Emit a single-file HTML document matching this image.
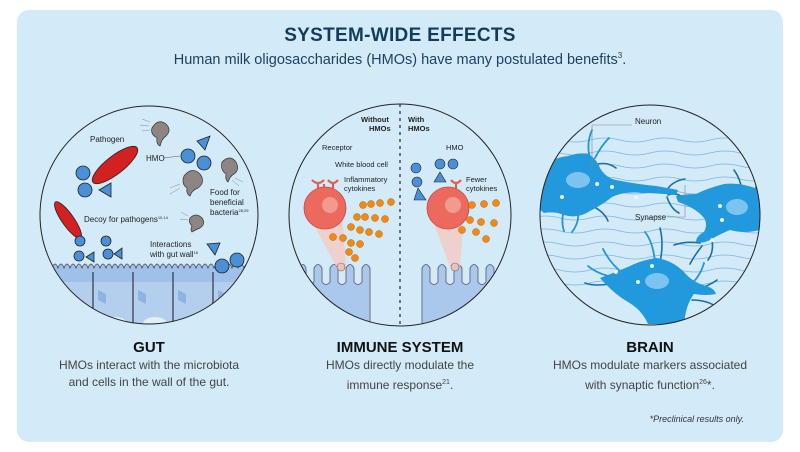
<!DOCTYPE html>
<html><head><meta charset="utf-8"><style>
html,body{margin:0;padding:0;background:#fff;}
body{width:800px;height:452px;position:relative;overflow:hidden;font-family:"Liberation Sans",sans-serif;}
.panel{position:absolute;left:17px;top:10px;width:766px;height:432px;background:#d3eaf9;border-radius:12px;}
.t{position:absolute;left:0;width:800px;text-align:center;color:#123c5e;}
.h{position:absolute;text-align:center;color:#111;font-weight:bold;font-size:15px;width:260px;}
.d{position:absolute;text-align:center;color:#444;font-size:12px;line-height:17px;width:260px;}
</style></head><body>
<div class="panel"></div>
<div class="t" style="top:25px;font-size:19px;font-weight:bold;letter-spacing:0.3px">SYSTEM-WIDE EFFECTS</div>
<div class="t" style="top:51px;font-size:14.5px;color:#1f4060">Human milk oligosaccharides (HMOs) have many postulated benefits<sup style="font-size:8px">3</sup>.</div>

<svg width="800" height="452" style="position:absolute;left:0;top:0" font-family="Liberation Sans, sans-serif">
<defs>
<clipPath id="c1"><circle cx="149" cy="215" r="109"/></clipPath>
<clipPath id="c2"><circle cx="400" cy="215" r="111"/></clipPath>
<clipPath id="c3"><circle cx="650" cy="215" r="110"/></clipPath>
</defs>
<!-- GUT -->
<g clip-path="url(#c1)">
<rect x="30" y="268" width="240" height="70" fill="#b4cfee"/>
<rect x="30" y="268" width="240" height="14" fill="#9fc0e8"/>
<path d="M40 268 q3 -8 6 0 q3 -8 6 0 q3 -8 6 0 q3 -8 6 0 q3 -8 6 0 q3 -8 6 0 q3 -8 6 0 q3 -8 6 0 q3 -8 6 0 q3 -8 6 0 q3 -8 6 0 q3 -8 6 0 q3 -8 6 0 q3 -8 6 0 q3 -8 6 0 q3 -8 6 0 q3 -8 6 0 q3 -8 6 0 q3 -8 6 0 q3 -8 6 0 q3 -8 6 0 q3 -8 6 0 q3 -8 6 0 q3 -8 6 0 q3 -8 6 0 q3 -8 6 0 q3 -8 6 0 q3 -8 6 0 q3 -8 6 0 q3 -8 6 0 q3 -8 6 0 q3 -8 6 0 q3 -8 6 0 q3 -8 6 0 q3 -8 6 0 q3 -8 6 0" fill="#9fc0e8" stroke="#445" stroke-width="0.8"/>
<g stroke="#334" stroke-width="1.2"><line x1="93" y1="272" x2="93" y2="330"/><line x1="133" y1="272" x2="133" y2="330"/><line x1="173" y1="272" x2="173" y2="330"/><line x1="213" y1="272" x2="213" y2="330"/></g>
<g fill="#8fb4e4"><path d="M98 290 l8 4 v10 l-8 -4z"/><path d="M138 290 l8 4 v10 l-8 -4z"/><path d="M178 290 l8 4 v10 l-8 -4z"/><path d="M218 290 l8 4 v10 l-8 -4z"/></g>
<g fill="#e4eef8"><ellipse cx="115" cy="324" rx="12" ry="7"/><ellipse cx="155" cy="324" rx="12" ry="7"/><ellipse cx="195" cy="324" rx="12" ry="7"/></g>
</g>
<circle cx="149" cy="215" r="109" fill="none" stroke="#222" stroke-width="1"/>
<g stroke="#222" stroke-width="0.8" fill="#4a90d6">
<ellipse cx="115" cy="165" rx="28" ry="9" transform="rotate(-38 115 165)" fill="#d32020"/>
<ellipse cx="68" cy="220" rx="22" ry="6" transform="rotate(55 68 220)" fill="#d32020"/>
<circle cx="83" cy="173" r="7"/><circle cx="85" cy="190" r="7"/><polygon points="99,190 111,183 111,197"/>
<circle cx="188" cy="156" r="7"/><circle cx="204" cy="163" r="7"/><polygon points="197,141 210,136 205,150"/>
<circle cx="80" cy="241" r="5"/><circle cx="79" cy="256" r="5"/><polygon points="86,257 94,252 94,262"/>
<circle cx="106" cy="241" r="5"/><circle cx="108" cy="254" r="5"/><polygon points="114,254 122,248 122,259"/>
<circle cx="222" cy="266" r="7"/><circle cx="237" cy="260" r="7"/><polygon points="207,244 220,243 215,255"/>
</g>
<g fill="#8c8584" stroke="#333" stroke-width="0.7">
<path d="M152 128 q6 -10 14 -4 q6 6 0 12 q-4 2 -6 10 q-4 -2 -3 -8 q-7 -4 -5 -10z"/>
<path d="M222 162 q8 -8 14 0 q4 8 -2 12 q-4 2 -6 8 q-3 -2 -2 -8 q-6 -4 -4 -12z"/>
<path d="M184 176 q8 -10 16 -2 q6 8 -2 14 q-6 2 -8 8 q-4 -2 -3 -8 q-6 -4 -3 -12z"/>
<path d="M190 218 q6 -6 12 0 q4 6 -2 10 q-5 2 -8 4 q-2 -2 0 -6 q-4 -4 -2 -8z"/>
</g>
<g fill="none" stroke="#888" stroke-width="0.5">
<path d="M150 122 l-8 -3 M149 126 l-9 -1 M150 130 l-8 1"/>
<path d="M235 178 l8 4 M232 180 l7 6"/>
<path d="M180 184 l-10 4 M180 188 l-10 6"/>
<path d="M188 216 l-7 -4 M188 220 l-8 -1"/>
</g>
<g font-size="8" fill="#222">
<text x="90" y="142">Pathogen</text><text x="146" y="161">HMO</text>
<line x1="163" y1="158" x2="180" y2="156" stroke="#555" stroke-width="0.5"/>
<text x="84" y="222">Decoy for pathogens<tspan font-size="4" dy="-3">10,14</tspan></text>
<text x="210" y="195">Food for</text><text x="210" y="205">beneficial</text><text x="210" y="215">bacteria<tspan font-size="4" dy="-3">28,29</tspan></text>
<text x="150" y="247">Interactions</text><text x="150" y="257">with gut wall<tspan font-size="4" dy="-3">16</tspan></text>
</g>
<!-- IMMUNE -->
<g clip-path="url(#c2)">
<path d="M300 340 V268 q3 -7 6 0 v14 q4 5 8 0 v-14 q4 -7 8 0 v14 q4 5 8 0 v-14 q4 -7 8 0 v14 q4 5 8 0 v-14 q4 -7 8 0 v14 q4 5 8 0 v-14 q4 -7 8 0 V340z" fill="#a9c8ec" stroke="#556" stroke-width="0.8"/>
<path d="M422 340 V268 q4 -7 8 0 v14 q4 5 8 0 v-14 q4 -7 8 0 v14 q4 5 8 0 v-14 q4 -7 8 0 v14 q4 5 8 0 v-14 q4 -7 8 0 v14 q4 5 8 0 v-14 q4 -7 8 0 v14 q4 5 8 0 v-14 q4 -7 8 0 V340z" fill="#a9c8ec" stroke="#556" stroke-width="0.8"/>
</g>
<circle cx="400" cy="215" r="111" fill="none" stroke="#222" stroke-width="1"/>
<line x1="400" y1="104" x2="400" y2="326" stroke="#222" stroke-width="1.2" stroke-dasharray="3,4"/>
<polygon points="308,214 342,214 346,266 336,266" fill="#f1cdc7" opacity="0.9"/>
<polygon points="430,214 464,214 460,266 450,266" fill="#f1cdc7" opacity="0.9"/>
<circle cx="341" cy="267" r="4" fill="#f0c0b8" stroke="#666" stroke-width="0.6"/>
<circle cx="455" cy="267" r="4" fill="#f0c0b8" stroke="#666" stroke-width="0.6"/>
<g fill="none" stroke="#e06050" stroke-width="2.2">
<path d="M318 192 v-8 M312 180 q6 6 12 0 M324 190 v-6"/>
<path d="M333 192 v-8 M328 180 q5 6 10 0"/>
<path d="M456 192 v-8 M451 180 q5 6 10 0"/>
</g>
<g fill="#ec6a5d" stroke="#c24a40" stroke-width="0.8">
<circle cx="325" cy="208" r="21"/><circle cx="448" cy="208" r="21"/>
</g>
<g fill="#f29a8e"><circle cx="330" cy="205" r="8"/><circle cx="453" cy="205" r="8"/></g>
<g fill="#4a90d6" stroke="#222" stroke-width="0.6">
<circle cx="416" cy="168" r="5"/><circle cx="417" cy="182" r="5"/><polygon points="418,188 426,200 414,200"/>
<circle cx="440" cy="164" r="5"/><circle cx="453" cy="164" r="5"/><polygon points="440,172 446,182 434,182"/>
</g>
<g fill="#f08a14" stroke="#b85f00" stroke-width="0.5">
<circle cx="363" cy="205" r="3.5"/><circle cx="371" cy="204" r="3.5"/><circle cx="380" cy="203" r="3.5"/><circle cx="391" cy="202" r="3.5"/>
<circle cx="357" cy="217" r="3.5"/><circle cx="365" cy="217" r="3.5"/><circle cx="375" cy="218" r="3.5"/><circle cx="385" cy="219" r="3.5"/>
<circle cx="351" cy="227" r="3.5"/><circle cx="360" cy="230" r="3.5"/><circle cx="369" cy="232" r="3.5"/><circle cx="379" cy="234" r="3.5"/>
<circle cx="333" cy="237" r="3.5"/><circle cx="343" cy="238" r="3.5"/><circle cx="351" cy="243" r="3.5"/><circle cx="360" cy="244" r="3.5"/><circle cx="349" cy="252" r="3.5"/><circle cx="355" cy="258" r="3.5"/>
<circle cx="472" cy="205" r="3.5"/><circle cx="484" cy="204" r="3.5"/><circle cx="496" cy="203" r="3.5"/>
<circle cx="470" cy="220" r="3.5"/><circle cx="481" cy="222" r="3.5"/><circle cx="494" cy="223" r="3.5"/>
<circle cx="462" cy="230" r="3.5"/><circle cx="476" cy="232" r="3.5"/><circle cx="486" cy="239" r="3.5"/>
</g>
<g font-size="7.5" fill="#222">
<text x="361" y="122" font-weight="bold">Without</text><text x="369" y="131" font-weight="bold">HMOs</text>
<text x="408" y="122" font-weight="bold">With</text><text x="408" y="131" font-weight="bold">HMOs</text>
<text x="322" y="150">Receptor</text><text x="335" y="167">White blood cell</text>
<text x="344" y="182">Inflammatory</text><text x="344" y="191">cytokines</text>
<text x="446" y="150">HMO</text><text x="466" y="182">Fewer</text><text x="466" y="191">cytokines</text>
</g>
<!-- BRAIN -->
<g clip-path="url(#c3)">
<g fill="none" stroke="#7fb4e0" stroke-width="0.7">
<path d="M530 140 q15 -4 30 0 t30 0 t30 0 t30 0 t30 0 t30 0 t30 0 t30 0"/>
<path d="M530 153 q15 -4 30 0 t30 0 t30 0 t30 0 t30 0 t30 0 t30 0 t30 0"/>
<path d="M530 166 q15 -4 30 0 t30 0 t30 0 t30 0 t30 0 t30 0 t30 0 t30 0"/>
<path d="M530 179 q15 -4 30 0 t30 0 t30 0 t30 0 t30 0 t30 0 t30 0 t30 0"/>
<path d="M530 192 q15 -4 30 0 t30 0 t30 0 t30 0 t30 0 t30 0 t30 0 t30 0"/>
<path d="M530 205 q15 -4 30 0 t30 0 t30 0 t30 0 t30 0 t30 0 t30 0 t30 0"/>
<path d="M530 218 q15 -4 30 0 t30 0 t30 0 t30 0 t30 0 t30 0 t30 0 t30 0"/>
<path d="M530 231 q15 -4 30 0 t30 0 t30 0 t30 0 t30 0 t30 0 t30 0 t30 0"/>
<path d="M530 244 q15 -4 30 0 t30 0 t30 0 t30 0 t30 0 t30 0 t30 0 t30 0"/>
<path d="M530 257 q15 -4 30 0 t30 0 t30 0 t30 0 t30 0 t30 0 t30 0 t30 0"/>
<path d="M530 270 q15 -4 30 0 t30 0 t30 0 t30 0 t30 0 t30 0 t30 0 t30 0"/>
<path d="M530 283 q15 -4 30 0 t30 0 t30 0 t30 0 t30 0 t30 0 t30 0 t30 0"/>
</g>
<!-- thin dendrites -->
<g fill="none" stroke="#1a6fa8" stroke-width="1.6" stroke-linecap="round">
<path d="M590 158 q-4 -14 2 -28"/><path d="M595 158 q6 -12 14 -20"/><path d="M598 164 q10 -2 18 4"/>
<path d="M566 205 q-6 14 -2 26"/><path d="M578 208 q2 14 -6 24"/><path d="M590 205 q14 6 18 16"/>
<path d="M665 193 q6 -12 20 -14"/><path d="M668 195 q10 -4 18 6"/><path d="M667 197 q4 12 12 16"/>
<path d="M700 243 q-14 -2 -26 2"/><path d="M702 246 q-8 10 -12 18"/><path d="M712 240 q2 12 -4 20"/>
<path d="M742 190 q-2 -12 -8 -20"/><path d="M752 198 q6 -10 4 -20"/>
<path d="M625 275 q-14 -10 -22 -26"/><path d="M620 278 q-20 -2 -32 -12"/><path d="M615 283 q-20 4 -30 0"/>
<path d="M655 262 q-2 -20 -10 -30"/><path d="M660 262 q4 -18 0 -34"/>
<path d="M690 285 q10 -8 14 -22"/><path d="M695 290 q14 -4 22 -10"/><path d="M692 300 q16 0 26 8"/>
</g>
<g fill="none" stroke="#2199dc" stroke-width="1.6" stroke-linecap="round">
<path d="M590 158 q-4 -14 2 -28"/><path d="M595 158 q6 -12 14 -20"/><path d="M566 205 q-6 14 -2 26"/><path d="M578 208 q2 14 -6 24"/>
<path d="M625 275 q-14 -10 -22 -26"/><path d="M620 278 q-20 -2 -32 -12"/><path d="M655 262 q-2 -20 -10 -30"/><path d="M690 285 q10 -8 14 -22"/>
</g>
<g fill="#2199dc">
<path d="M540 170 q10 -12 28 -14 q12 -4 20 -2 q8 4 12 14 q6 10 16 12 q20 4 40 6 q12 2 22 4 l-2 5 q-22 -2 -34 -2 q-18 -2 -30 4 q-10 8 -22 14 q-12 8 -26 4 q-10 -4 -20 -2 q-6 -4 -6 -10z"/>
<path d="M676 196 q10 -2 20 -2 q12 -6 28 -10 q18 -2 36 6 v40 q-16 4 -30 0 q-10 4 -20 10 q-8 4 -14 2 q0 -6 8 -10 q4 -8 0 -14 q-8 -10 -26 -16z"/>
<path d="M600 278 q16 -6 30 -12 q12 -6 26 -8 q16 2 28 14 q8 10 22 14 q8 2 10 8 q-10 2 -22 0 q-8 10 -10 30 h-36 q-6 -14 -20 -22 q-14 -8 -28 -24z"/>
</g>
<g fill="#7cc3ef"><ellipse cx="578" cy="180" rx="12" ry="8"/><ellipse cx="737" cy="207" rx="11" ry="8"/><ellipse cx="657" cy="281" rx="12" ry="8"/></g>
<g fill="#e8f6ff"><circle cx="597" cy="184" r="2"/><circle cx="636" cy="197" r="2"/><circle cx="612" cy="187" r="2"/><circle cx="562" cy="197" r="2"/><circle cx="720" cy="206" r="2"/><circle cx="722" cy="220" r="2"/><circle cx="712" cy="240" r="2"/><circle cx="616" cy="272" r="2"/><circle cx="638" cy="282" r="2"/><circle cx="652" cy="266" r="2"/></g>
</g>
<circle cx="650" cy="215" r="110" fill="none" stroke="#222" stroke-width="1"/>
<g fill="none" stroke="#888" stroke-width="0.6"><path d="M592 170 v-45 h40"/><path d="M685 185 v32 h-18"/></g>
<g font-size="8" fill="#222"><text x="635" y="124">Neuron</text><text x="635" y="220">Synapse</text></g>
</svg>

<div class="h" style="left:19px;top:339px">GUT</div>
<div class="d" style="left:19px;top:357px">HMOs interact with the microbiota<br>and cells in the wall of the gut.</div>
<div class="h" style="left:270px;top:339px">IMMUNE SYSTEM</div>
<div class="d" style="left:270px;top:357px">HMOs directly modulate the<br>immune response<sup style="font-size:7px">21</sup>.</div>
<div class="h" style="left:520px;top:339px">BRAIN</div>
<div class="d" style="left:520px;top:357px">HMOs modulate markers associated<br>with synaptic function<sup style="font-size:7px">26</sup>*.</div>
<div style="position:absolute;left:620px;top:414px;width:124px;text-align:right;font-size:9px;font-style:italic;color:#333">*Preclinical results only.</div>
</body></html>
